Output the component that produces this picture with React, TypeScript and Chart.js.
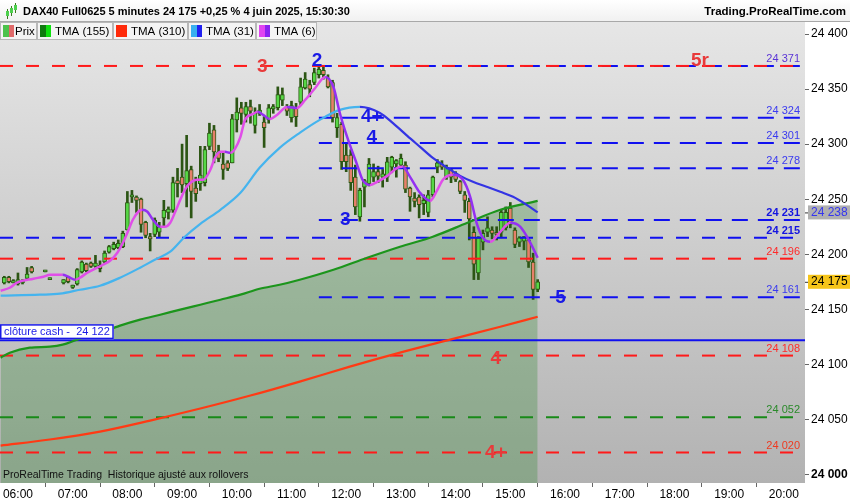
import React, { useEffect, useRef } from 'react';
import { Chart, registerables } from 'chart.js';
Chart.register(...registerables);

const FONT = '"Liberation Sans", Arial, sans-serif';

// ---- Data ----
const FIRST_BAR = 345; // 05:45, minutes after midnight
const BAR_MINUTES = 5;
const X_MIN = 340.3;
const X_MAX = 1223.2;
const Y_MIN = 23992.3;
const Y_MAX = 24410.9;

const hourTicks = [360, 420, 480, 540, 600, 660, 720, 780, 840, 900, 960, 1020, 1080, 1140, 1200];
const priceTicks = [24000, 24050, 24100, 24150, 24200, 24250, 24300, 24350, 24400];

const opens = [24174, 24179, 24174, 24173, 24174, 24178, 24188, null, null, 24184, 24177, null, null, 24174, 24179, 24170, 24173, 24184, 24191, 24192, 24189, 24190, 24193, 24202, 24205, 24206, 24207, 24222, 24252, 24252, 24250, 24229, 24216, 24218, 24220, 24233, 24238, 24240, 24267, 24270, 24264, 24277, 24260, 24264, 24265, 24298, 24313, 24293, 24282, 24283, 24283, 24322, 24333, 24327, 24334, 24317, 24328, 24320, 24322, 24332, 24333, 24340, 24334, 24324, 24333, 24338, 24351, 24354, 24356, 24363, 24367, 24360, 24356, 24315, 24318, 24290, 24290, 24270, 24234, 24261, 24264, 24270, 24275, 24270, 24270, 24279, 24282, 24281, 24281, 24260, 24251, 24252, 24246, 24238, 24254, 24279, 24282, 24270, 24277, 24273, 24266, 24254, 24248, 24220, 24183, 24211, 24220, 24222, 24220, 24220, 24224, 24242, 24222, 24211, 24212, 24213, 24193, 24168];
const highs = [24180, 24180, 24177, 24183, 24177, 24188, 24189, null, null, 24185.5, 24178.5, null, null, 24177, 24180, 24172, 24187, 24194, 24192, 24193, 24199, 24194, 24203, 24208, 24211, 24213, 24221, 24257, 24258, 24253, 24251, 24230, 24219, 24233, 24229, 24249, 24243, 24270, 24278, 24300, 24308, 24280, 24270, 24298, 24298, 24319, 24317, 24299, 24293, 24285, 24327, 24342, 24338, 24338, 24340, 24333, 24336, 24325, 24336, 24336, 24352, 24351, 24336, 24339, 24337, 24360, 24365, 24358, 24369, 24372, 24370, 24363, 24358, 24328, 24320, 24300, 24295, 24281, 24260, 24268, 24287, 24282, 24280, 24277, 24288, 24289, 24286, 24291, 24284, 24261, 24256, 24254, 24254, 24258, 24271, 24286, 24285, 24281, 24278, 24275, 24267, 24257, 24251, 24225, 24216, 24222, 24234, 24225, 24225, 24240, 24243, 24247, 24224, 24216, 24216, 24215, 24201, 24177];
const lows = [24173, 24174, 24174, 24172, 24173, 24177, 24183, null, null, 24184, 24177, null, null, 24173, 24174, 24169, 24172, 24183, 24184, 24188, 24188, 24184, 24192, 24201, 24204, 24205, 24206, 24222, 24247, 24238, 24220, 24215, 24203, 24216, 24216, 24225, 24232, 24238, 24252, 24256, 24243, 24233, 24248, 24258, 24262, 24295, 24283, 24284, 24268, 24276, 24283, 24311, 24318, 24320, 24319, 24310, 24326, 24297, 24319, 24328, 24331, 24335, 24326, 24320, 24316, 24335, 24350, 24343, 24354, 24360, 24359, 24351, 24320, 24306, 24277, 24275, 24258, 24236, 24230, 24243, 24262, 24266, 24265, 24261, 24266, 24274, 24270, 24280, 24256, 24239, 24243, 24233, 24236, 24234, 24252, 24274, 24277, 24268, 24265, 24266, 24255, 24238, 24213, 24177, 24177, 24204, 24216, 24214, 24213, 24215, 24222, 24224, 24206, 24207, 24204, 24188, 24159, 24166];
const closes = [24179, 24175, 24176, 24177, 24176, 24182, 24184, null, null, 24185, 24178, null, null, 24177, 24175, 24172, 24186, 24193, 24185, 24189, 24192, 24187, 24201, 24207, 24209, 24210, 24219, 24247, 24254, 24249, 24227, 24217, 24214, 24231, 24225, 24240, 24241, 24265, 24264, 24263, 24276, 24257, 24255, 24272, 24295, 24310, 24293, 24287, 24277, 24278, 24323, 24329, 24328, 24334, 24330, 24328, 24331, 24315, 24333, 24334, 24345, 24345, 24330, 24335, 24325, 24352, 24359, 24350, 24365, 24368, 24363, 24352, 24324, 24324, 24284, 24284, 24265, 24243, 24258, 24267, 24282, 24275, 24271, 24273, 24284, 24288, 24285, 24287, 24259, 24252, 24248, 24245, 24249, 24254, 24270, 24283, 24279, 24279, 24270, 24268, 24257, 24249, 24232, 24191, 24215, 24219, 24224, 24219, 24218, 24238, 24238, 24227, 24209, 24215, 24216, 24193, 24168, 24175];

// TMA (6)
const tma6Times = [341, 351, 359, 377, 388, 395, 409, 415, 423, 428, 436, 447, 453, 461, 469, 474, 480, 486, 492, 496, 502, 508, 516, 521, 527, 532, 538, 543, 549, 556, 563, 571, 576, 582, 587, 593, 598, 604, 609, 618, 623, 629, 636, 644, 655, 666, 675, 686, 697, 706, 713, 721, 732, 738, 746, 754, 765, 776, 782, 790, 801, 812, 820, 826, 837, 848, 856, 863, 870, 878, 889, 900, 911, 922, 930];
const tma6Values = [24166.9, 24169.6, 24174.2, 24177.8, 24179.6, 24181.4, 24181.4, 24179.6, 24176.9, 24178.7, 24183.2, 24187.8, 24190.5, 24194.1, 24201.4, 24208.6, 24219.5, 24231.3, 24238.6, 24240.4, 24238.6, 24231.3, 24224.9, 24224.9, 24228.6, 24237.6, 24249.4, 24258.5, 24264.9, 24267.6, 24267.6, 24276.7, 24287.5, 24293, 24293, 24292.1, 24295.7, 24306.6, 24322, 24327.4, 24329.3, 24326.5, 24322.9, 24326.5, 24333.8, 24332.9, 24340.1, 24351, 24361, 24351.9, 24328.3, 24306.6, 24281.2, 24267.6, 24263, 24265.8, 24271.2, 24278.5, 24279.4, 24270.3, 24255.8, 24248.5, 24258.5, 24267.6, 24272.1, 24267.6, 24252.2, 24228.6, 24215, 24211.3, 24220.4, 24228.6, 24224.9, 24210.4, 24196.8];

// TMA (31)
const tma31Times = [341, 384, 406, 428, 450, 472, 494, 510, 527, 543, 560, 582, 604, 625, 647, 669, 691, 713, 735, 757, 771, 787, 801, 815, 831, 845, 859, 874, 889, 903, 918, 930];
const tma31Values = [24162.4, 24163.3, 24164.2, 24167.8, 24171.4, 24178.7, 24187.8, 24195, 24202.3, 24215.9, 24227.7, 24240.4, 24255.8, 24278.5, 24296.6, 24310.2, 24322, 24331.1, 24333.8, 24328.3, 24319.3, 24307.5, 24297.5, 24287.5, 24278.5, 24271.2, 24265.8, 24261.3, 24256.7, 24252.2, 24244.9, 24238];

// TMA (155)
const tma155Times = [341, 351, 373, 395, 409, 425, 450, 472, 494, 516, 538, 560, 582, 604, 625, 647, 669, 706, 743, 779, 815, 853, 889, 930];
const tma155Values = [24106.1, 24110.6, 24115.2, 24116.1, 24117.9, 24122.5, 24128.8, 24135.2, 24140.6, 24145.1, 24149.7, 24154.2, 24158.7, 24163.3, 24168.7, 24172.3, 24176.9, 24186, 24196.8, 24206.8, 24215.9, 24228.6, 24240.4, 24248.5];

// TMA (310)
const tma310Times = [341, 395, 450, 505, 560, 615, 669, 724, 779, 834, 889, 930];
const tma310Values = [24026.3, 24031.8, 24039, 24049, 24059.9, 24071.7, 24084.4, 24098, 24110.7, 24122.5, 24134.2, 24143.3];

// Horizontal levels
const LEVEL_START_LATE = 690; // 11:30
const redDashedLevels = [24371, 24196, 24108, 24020];
const greenDashedLevels = [24052];
const blueDashedFullLevels = [24215];
const blueDashedLateLevels = [24371, 24324, 24301, 24278, 24231, 24161];
const blueSolidLevels = [24122];

// Value labels at the right of the plot
const levelLabelPrices = [24371, 24324, 24301, 24278, 24231, 24215, 24196, 24161, 24108, 24052, 24020];
const levelLabelColors = ['#5a34d6', '#3a3af0', '#3a3af0', '#3a3af0', '#1414e0', '#1414e0', '#ff2a2a', '#3a3af0', '#ff2a2a', '#2a8a2a', '#ee3a20'];
const levelLabelBold = [false, false, false, false, true, true, false, false, false, false, false];

// Wave labels
const waveTexts = ['3', '2', '5r', '4+', '4', '3', '5', '4', '4+'];
const waveTimes = [628, 688, 1108, 748, 748, 719, 955, 884, 884];
const wavePrices = [24371, 24376.5, 24376.5, 24325.5, 24306.5, 24232, 24161.5, 24106, 24021];
const waveColors = ['#e83a3a', '#1a1ae6', '#e83a3a', '#1a1ae6', '#1a1ae6', '#1a1ae6', '#1a1ae6', '#e83a3a', '#e83a3a'];

const CASH_CLOSE = 24122;
const LAST_PRICE = 24175;
const LAST_TMA31 = 24238;

const headerText = 'DAX40 Full0625 5 minutes 24 175 +0,25 % 4 juin 2025, 15:30:30';
const siteText = 'Trading.ProRealTime.com';
const footerText = 'ProRealTime Trading  Historique ajusté aux rollovers';
const legendNames = ['Prix', 'TMA (155)', 'TMA (310)', 'TMA (31)', 'TMA (6)'];
const legendWidths = [37, 76, 75, 68, 61];
const legendColorsA = ['#4cc24c', '#0f7a0f', '#ff2a0a', '#38b0f0', '#e044f0'];
const legendColorsB = ['#e06a6a', '#10e010', '#ff2a0a', '#2020f0', '#8a22f0'];

const fmt = (v: number) => {
  const r = Math.round(v);
  return `${Math.floor(r / 1000)} ${String(r % 1000).padStart(3, '0')}`;
};
const fmtTime = (m: number) => `${String(Math.floor(m / 60)).padStart(2, '0')}:${String(Math.round(m % 60)).padStart(2, '0')}`;

const zip = (t: number[], v: number[]) => t.map((x, i) => ({ x, y: v[i] }));

function levelLine(price: number, start: number, color: string, dash: number[], offset: number, width = 2) {
  return {
    type: 'line' as const,
    data: [{ x: start, y: price }, { x: X_MAX, y: price }],
    borderColor: color,
    borderWidth: width,
    borderDash: dash,
    borderDashOffset: offset,
    pointRadius: 0,
    fill: false,
    order: 2,
    tension: 0,
  };
}

function maLine(times: number[], values: number[], up: string, down: string, width: number, extra: any = {}) {
  return {
    type: 'line' as const,
    data: zip(times, values),
    borderColor: up,
    borderWidth: width,
    pointRadius: 0,
    cubicInterpolationMode: 'monotone' as const,
    segment: {
      borderColor: (c: any) => (c.p1.parsed.y >= c.p0.parsed.y ? up : down),
    },
    fill: false,
    order: 1,
    ...extra,
  };
}

const decor = {
  id: 'decor',
  beforeDraw(chart: any) {
    const { ctx, chartArea: a } = chart;
    ctx.save();
    ctx.fillStyle = '#ffffff';
    ctx.fillRect(0, 0, chart.width, chart.height);
    const g = ctx.createLinearGradient(0, a.top, 0, a.bottom);
    g.addColorStop(0, '#e6e6e6');
    g.addColorStop(1, '#b2b2b2');
    ctx.fillStyle = g;
    ctx.fillRect(a.left, a.top, a.right - a.left, a.bottom - a.top);
    ctx.restore();
  },
  afterDatasetsDraw(chart: any) {
    const { ctx, chartArea: a, scales } = chart;
    const xs = scales.x;
    const ys = scales.y;
    ctx.save();
    // right-side level values
    ctx.textAlign = 'right';
    ctx.textBaseline = 'middle';
    levelLabelPrices.forEach((p, i) => {
      ctx.font = `${levelLabelBold[i] ? 'bold ' : ''}11px ${FONT}`;
      ctx.fillStyle = levelLabelColors[i];
      ctx.fillText(fmt(p), a.right - 5, ys.getPixelForValue(p) - 7);
    });
    // wave labels
    ctx.textAlign = 'center';
    waveTexts.forEach((t, i) => {
      ctx.font = `bold 19px ${FONT}`;
      ctx.fillStyle = waveColors[i];
      ctx.fillText(t, xs.getPixelForValue(waveTimes[i]), ys.getPixelForValue(wavePrices[i]) + 1);
    });
    // clôture cash box
    const cy = ys.getPixelForValue(CASH_CLOSE);
    ctx.font = `11px ${FONT}`;
    const label = `clôture cash -  ${fmt(CASH_CLOSE)}`;
    const w = ctx.measureText(label).width + 8;
    ctx.fillStyle = '#ffffff';
    ctx.fillRect(a.left, cy - 16, w, 15);
    ctx.strokeStyle = '#1a1ae6';
    ctx.lineWidth = 1.5;
    ctx.strokeRect(a.left + 0.75, cy - 15.25, w - 1.5, 13.5);
    ctx.fillStyle = '#1a1ae6';
    ctx.textAlign = 'left';
    ctx.fillText(label, a.left + 4, cy - 8);
    // footer
    ctx.font = `10.5px ${FONT}`;
    ctx.fillStyle = '#111';
    ctx.fillText(footerText, a.left + 3, a.bottom - 8);
    ctx.restore();
  },
  afterDraw(chart: any) {
    const { ctx, chartArea: a, scales } = chart;
    const ys = scales.y;
    ctx.save();
    // header
    const hg = ctx.createLinearGradient(0, 0, 0, a.top);
    hg.addColorStop(0, '#ffffff');
    hg.addColorStop(1, '#f0f0f0');
    ctx.fillStyle = hg;
    ctx.fillRect(0, 0, chart.width, a.top);
    ctx.fillStyle = '#a8a8a8';
    ctx.fillRect(0, a.top - 1, chart.width, 1);
    // icon
    ctx.fillStyle = '#3a7a20';
    ctx.fillRect(7, 9, 1, 10);
    ctx.fillRect(11, 6, 1, 10);
    ctx.fillRect(15, 3, 1, 10);
    ctx.fillStyle = '#4cd04c';
    ctx.fillRect(6, 11, 3, 5);
    ctx.fillRect(10, 8, 3, 5);
    ctx.fillRect(14, 5, 3, 5);
    ctx.font = `bold 11px ${FONT}`;
    ctx.fillStyle = '#000';
    ctx.textBaseline = 'middle';
    ctx.textAlign = 'left';
    ctx.fillText(headerText, 23, 12);
    ctx.font = `bold 11.5px ${FONT}`;
    ctx.textAlign = 'right';
    ctx.fillText(siteText, chart.width - 4, 12);
    // legend
    ctx.font = `11.5px ${FONT}`;
    ctx.textAlign = 'left';
    let lx = 0;
    legendNames.forEach((n, i) => {
      const bw = legendWidths[i];
      ctx.fillStyle = '#f4f4f4';
      ctx.fillRect(lx, a.top, bw, 17);
      ctx.strokeStyle = '#b8b8b8';
      ctx.lineWidth = 1;
      ctx.strokeRect(lx + 0.5, a.top + 0.5, bw - 1, 17);
      ctx.fillStyle = legendColorsA[i];
      ctx.fillRect(lx + 3, a.top + 3, 6, 12);
      ctx.fillStyle = legendColorsB[i];
      ctx.fillRect(lx + 9, a.top + 3, 5, 12);
      ctx.fillStyle = '#000';
      ctx.fillText(n, lx + (i === 0 ? 15 : 18), a.top + 9.5);
      lx += bw;
    });
    // right axis boxes
    const box = (p: number, bg: string, fg: string) => {
      const y = ys.getPixelForValue(p);
      ctx.fillStyle = bg;
      ctx.fillRect(a.right + 3, y - 7, 42, 14);
      ctx.font = `12px ${FONT}`;
      ctx.fillStyle = fg;
      ctx.textAlign = 'left';
      ctx.fillText(fmt(p), a.right + 6, y);
      ctx.fillStyle = '#333';
      ctx.fillRect(a.right, y, 3, 1);
    };
    box(LAST_TMA31, '#b0b0b0', '#3434f0');
    box(LAST_PRICE, '#f6c51a', '#000');
    ctx.restore();
  },
};

export default function App() {
  const ref = useRef<HTMLCanvasElement | null>(null);
  useEffect(() => {
    if (!ref.current) return;
    const bars = opens
      .map((o, i) => (o == null ? null : { t: FIRST_BAR + i * BAR_MINUTES, o, h: highs[i] as number, l: lows[i] as number, c: closes[i] as number }))
      .filter(Boolean) as { t: number; o: number; h: number; l: number; c: number }[];

    const datasets: any[] = [
      maLine(tma6Times, tma6Values, '#e04ee8', '#9430f2', 2.5),
      maLine(tma31Times, tma31Values, '#45b4ee', '#3434e4', 2.2),
      maLine(tma155Times, tma155Values, '#1c951c', '#0f7a0f', 2.2, { fill: 'start', backgroundColor: 'rgba(45,135,45,0.30)' }),
      maLine(tma310Times, tma310Values, '#ff3a14', '#ff3a14', 2.2),
      ...redDashedLevels.map((p) => levelLine(p, X_MIN, '#ff1a1a', [13, 13], 0)),
      ...greenDashedLevels.map((p) => levelLine(p, X_MIN, '#188a18', [13, 13], 0)),
      ...blueDashedFullLevels.map((p) => levelLine(p, X_MIN, '#1010f0', [13, 13], 0)),
      ...blueDashedLateLevels.map((p) => levelLine(p, LEVEL_START_LATE, '#1010f0', [16, 10], 3)),
      ...blueSolidLevels.map((p) => levelLine(p, X_MIN, '#1010f0', [], 0)),
      {
        type: 'bar',
        data: bars.map((b) => ({ x: b.t, y: [Math.min(b.o, b.c), Math.max(b.o, b.c)] })),
        backgroundColor: bars.map((b) => (b.c >= b.o ? '#56d846' : '#e6806a')),
        borderColor: '#2c5a14',
        borderWidth: 1,
        borderSkipped: false,
        barThickness: 4,
        minBarLength: 2,
        grouped: false,
        order: 3,
      },
      {
        type: 'bar',
        data: bars.map((b) => ({ x: b.t, y: [b.l, b.h] })),
        backgroundColor: '#2c5514',
        borderWidth: 0,
        barThickness: 2,
        grouped: false,
        order: 4,
      },
    ];

    const chart = new Chart(ref.current, {
      type: 'line',
      data: { datasets },
      plugins: [decor],
      options: {
        animation: false,
        responsive: false,
        devicePixelRatio: 1,
        layout: { padding: { top: 22, left: 0, right: 0, bottom: 0 } },
        plugins: {
          legend: { display: false },
          tooltip: { enabled: false },
          filler: { drawTime: 'beforeDatasetsDraw' },
        },
        scales: {
          x: {
            type: 'linear',
            min: X_MIN,
            max: X_MAX,
            offset: false,
            afterFit: (s: any) => { s.height = 17; },
            afterBuildTicks: (s: any) => { s.ticks = hourTicks.map((v) => ({ value: v })); },
            ticks: {
              autoSkip: false,
              maxRotation: 0,
              padding: 0,
              color: '#000',
              font: { family: FONT, size: 12 },
              callback: (v: any) => fmtTime(Number(v)),
            },
            grid: { drawOnChartArea: false, drawTicks: true, tickLength: 4, color: '#666' },
            border: { display: false },
          },
          y: {
            type: 'linear',
            position: 'right',
            min: Y_MIN,
            max: Y_MAX,
            afterFit: (s: any) => { s.width = 45; },
            afterBuildTicks: (s: any) => { s.ticks = priceTicks.map((v) => ({ value: v })); },
            ticks: {
              padding: 2,
              color: '#000',
              font: (c: any) => ({ family: FONT, size: 12, weight: c.tick && c.tick.value === 24000 ? 'bold' : 'normal' }),
              callback: (v: any) => fmt(Number(v)),
            },
            grid: { drawOnChartArea: false, drawTicks: true, tickLength: 4, color: '#666' },
            border: { display: false },
          },
        },
      },
    } as any);
    return () => chart.destroy();
  }, []);

  return (
    <div style={{ position: 'absolute', left: 0, top: 0, width: 850, height: 500, background: '#fff' }}>
      <canvas ref={ref} width={850} height={500} style={{ display: 'block', width: 850, height: 500 }} />
    </div>
  );
}
